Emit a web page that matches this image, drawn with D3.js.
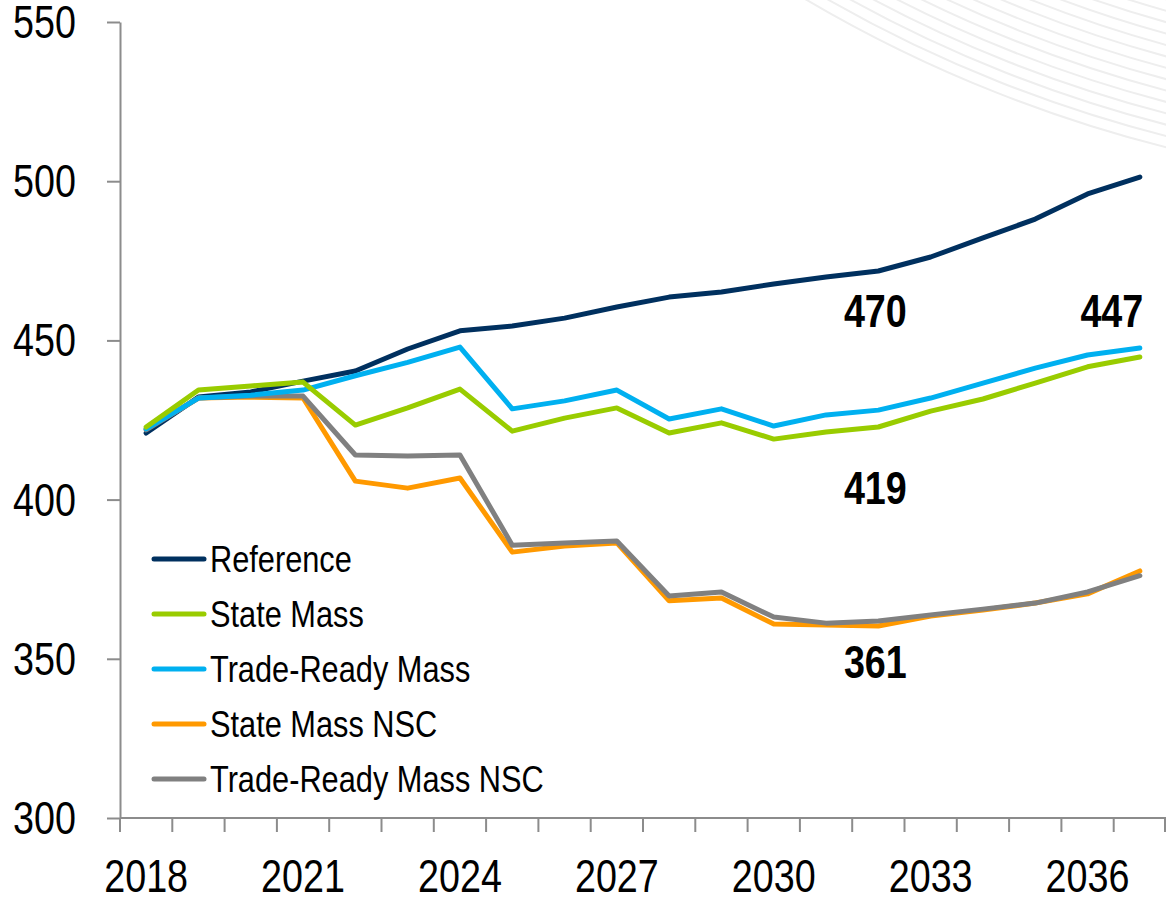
<!DOCTYPE html>
<html>
<head>
<meta charset="utf-8">
<script src="https://cdn.jsdelivr.net/npm/d3@7"></script>
<style>
  html, body { margin: 0; padding: 0; background: #fff; }
  svg { display: block; }
  text { font-family: "Liberation Sans", Arial, sans-serif; }
</style>
</head>
<body>
<div id="chart"></div>
<script>
// data
const years = d3.range(2018, 2038);
const yearTicks = [2018, 2021, 2024, 2027, 2030, 2033, 2036];
const valueTicks = [300, 350, 400, 450, 500, 550];

const reference = [420.9, 432.2, 433.8, 437.2, 440.4, 447.3, 453.0, 454.5, 457.0, 460.5,
                   463.6, 465.2, 467.7, 469.9, 471.8, 476.2, 482.2, 488.1, 496.0, 501.3];
const stateMass = [422.8, 434.4, 435.7, 436.9, 423.4, 428.8, 434.7, 421.5, 425.6, 428.8,
                   420.9, 424.1, 419.0, 421.2, 422.8, 427.8, 431.6, 436.6, 441.7, 444.8];
const tradeReady = [422.2, 431.9, 432.8, 434.4, 438.9, 443.1, 447.9, 428.5, 431.0, 434.4,
                    425.3, 428.5, 423.1, 426.6, 428.1, 431.9, 436.6, 441.3, 445.4, 447.6];
const stateMassNSC = [422.2, 431.9, 432.2, 431.9, 405.8, 403.6, 406.8, 383.5, 385.4, 386.4,
                      368.2, 369.1, 360.9, 360.6, 360.3, 363.4, 365.3, 367.5, 370.4, 377.6];
const tradeReadyNSC = [421.9, 431.9, 432.5, 432.5, 414.0, 413.7, 414.0, 385.7, 386.4, 387.0,
                       369.7, 371.0, 363.1, 361.2, 361.9, 363.8, 365.6, 367.5, 371.0, 376.1];

const seriesNames = ['Reference', 'State Mass', 'Trade-Ready Mass', 'State Mass NSC', 'Trade-Ready Mass NSC'];
const seriesColors = ['#00305f', '#99cc00', '#00b0f0', '#ff9900', '#808080'];
const seriesValues = [reference, stateMass, tradeReady, stateMassNSC, tradeReadyNSC];
// drawing order (last on top)
const drawOrder = [0, 3, 4, 2, 1];

const callouts = [
  {year: 2032, value: 470, label: '470'},
  {year: 2037, value: 447, label: '447'},
  {year: 2032, value: 419, label: '419'},
  {year: 2032, value: 361, label: '361'}
];

//Dimensions
const dims = {width: 1166, height: 900, left: 120, right: 1166, top: 22, bottom: 818};
const squeeze = 0.82; // no narrow font installed, so condense the sans by hand

const svg = d3.select('#chart')
  .append('svg')
  .attr('width', dims.width)
  .attr('height', dims.height);

// narrow text helper: position via transform so the x scale only squeezes glyphs
function narrowText(g, x, y, str, size, anchor, weight) {
  return g.append('text')
    .attr('transform', `translate(${x},${y}) scale(${squeeze},1)`)
    .attr('text-anchor', anchor)
    .attr('font-size', size)
    .attr('font-weight', weight || 'normal')
    .attr('fill', '#000')
    .text(str);
}

// decorative arcs, top right
const deco = svg.append('g');
d3.range(14).forEach(i => {
  deco.append('circle')
    .attr('cx', 1497)
    .attr('cy', -1173)
    .attr('r', 1361 - i * 11)
    .attr('fill', 'none')
    .attr('stroke', '#eeeeee')
    .attr('stroke-width', 2);
});

const xScale = d3.scaleBand()
  .domain(years)
  .range([dims.left, dims.right])
  .padding(0);

const yScale = d3.scaleLinear()
  .domain([300, 550])
  .range([dims.bottom, dims.top]);

const xCenter = d => xScale(d) + xScale.bandwidth() / 2;

// y axis
const yAxis = svg.append('g')
  .attr('transform', `translate(${dims.left},0)`)
  .call(d3.axisLeft(yScale).tickValues(valueTicks).tickSize(13).tickSizeOuter(0).tickFormat(''));
yAxis.select('.domain').attr('stroke', '#8c8c8c').attr('stroke-width', 2);
yAxis.selectAll('.tick line').attr('stroke', '#8c8c8c').attr('stroke-width', 2);
const yLabels = svg.append('g');
valueTicks.forEach(v => narrowText(yLabels, 76, yScale(v) + 16, v, 46, 'end'));

// x axis: ticks at category boundaries
const xAxis = svg.append('g')
  .attr('transform', `translate(0,${dims.bottom})`);
xAxis.append('line')
  .attr('x1', dims.left).attr('x2', dims.right)
  .attr('stroke', '#8c8c8c').attr('stroke-width', 2);
xAxis.selectAll('line.tk')
  .data(years.concat([null]))
  .join('line')
  .attr('class', 'tk')
  .attr('x1', (d, i) => i < years.length ? xScale(d) : dims.right - 1)
  .attr('x2', (d, i) => i < years.length ? xScale(d) : dims.right - 1)
  .attr('y1', 0).attr('y2', 14)
  .attr('stroke', '#8c8c8c').attr('stroke-width', 2);
yearTicks.forEach(yr => narrowText(xAxis, xCenter(yr), 74, yr, 46, 'middle'));

// lines
const line = d3.line()
  .x((d, i) => xCenter(years[i]))
  .y(d => yScale(d));

svg.append('g')
  .selectAll('path')
  .data(drawOrder)
  .join('path')
  .attr('d', k => line(seriesValues[k]))
  .attr('fill', 'none')
  .attr('stroke', k => seriesColors[k])
  .attr('stroke-width', 5)
  .attr('stroke-linejoin', 'round')
  .attr('stroke-linecap', 'round');

// value callouts
const labelY = {470: 327, 447: 327, 419: 504, 361: 678};
const calloutG = svg.append('g');
callouts.forEach(d => {
  narrowText(calloutG, xCenter(d.year) - (d.year === 2037 ? 28 : 3), labelY[d.value],
             d.label, 46, 'middle', 'bold');
});

// legend
const legend = svg.append('g');
seriesNames.forEach((name, i) => {
  const y = 559 + i * 55;
  legend.append('line')
    .attr('x1', 154).attr('x2', 204)
    .attr('y1', y).attr('y2', y)
    .attr('stroke', seriesColors[i])
    .attr('stroke-width', 5)
    .attr('stroke-linecap', 'round');
  narrowText(legend, 210, y + 13, name, 37.5, 'start');
});
</script>
</body>
</html>
